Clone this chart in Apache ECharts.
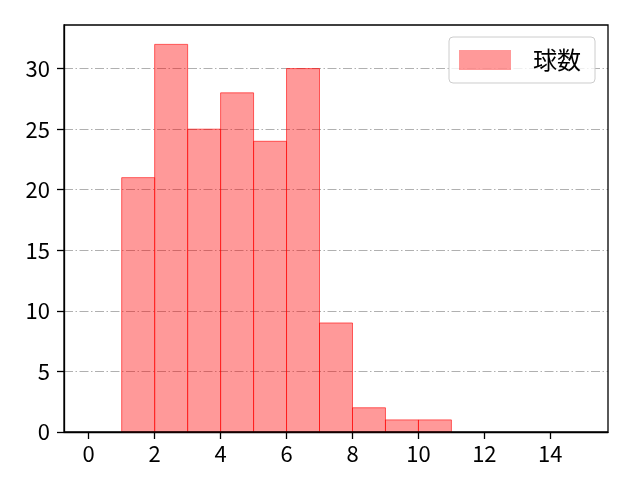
<!DOCTYPE html>
<html><head><meta charset="utf-8">
<script src="https://cdn.jsdelivr.net/npm/echarts@6/dist/echarts.min.js"></script>
<style>html,body{margin:0;padding:0;background:#fff}#c{width:640px;height:480px}</style>
</head><body><div id="c"></div>
<script>
const binStarts = [1, 2, 3, 4, 5, 6, 7, 8, 9, 10];
const binWidth = 1;
const counts = [21, 32, 25, 28, 24, 30, 9, 2, 1, 1];
const xTicks = [0, 2, 4, 6, 8, 10, 12, 14];
const yTicks = [0, 5, 10, 15, 20, 25, 30];
const seriesName = '球数';

const FONT = '"Noto Sans CJK JP", "DejaVu Sans", sans-serif';
const chart = echarts.init(document.getElementById('c'), null, {renderer: 'canvas'});
const data = binStarts.map((s, i) => [s, s + binWidth, counts[i]]);
chart.setOption({
  animation: false,
  grid: {left: 64, right: 32, top: 25, bottom: 48, show: false},
  legend: {
    top: 37, right: 45,
    data: [{name: seriesName, icon: 'rect'}],
    itemWidth: 52, itemHeight: 20, itemGap: 10,
    padding: [11, 14, 11, 10],
    borderColor: '#cccccc', borderWidth: 1, borderRadius: 4,
    backgroundColor: 'rgba(255,255,255,0.8)',
    textStyle: {fontFamily: FONT, fontSize: 24, color: '#000', padding: [0, 0, 0, 17]}
  },
  xAxis: {
    type: 'value', min: -0.75, max: 15.75,
    axisLine: {show: true, onZero: false, lineStyle: {color: '#000', width: 1.3}},
    axisTick: {show: true, length: 7, customValues: xTicks, lineStyle: {color: '#000', width: 1.3}},
    axisLabel: {customValues: xTicks, fontFamily: FONT, fontSize: 22, color: '#000', margin: 11},
    splitLine: {show: false}
  },
  yAxis: {
    type: 'value', min: 0, max: 33.6,
    axisLine: {show: true, onZero: false, lineStyle: {color: '#000', width: 1.3}},
    axisTick: {show: true, length: 7, customValues: yTicks, lineStyle: {color: '#000', width: 1.3}},
    axisLabel: {customValues: yTicks, fontFamily: FONT, fontSize: 22, color: '#000', margin: 14},
    splitLine: {show: true, lineStyle: {color: '#b0b0b0', width: 1, type: [9, 2.5, 1.5, 2.5]}}
  },
  series: [{
    name: seriesName, type: 'custom',
    itemStyle: {color: 'rgba(255,0,0,0.4)', borderColor: '#ff0000'},
    encode: {x: [0, 1], y: 2},
    data: data,
    renderItem: function (params, api) {
      const p0 = api.coord([api.value(0), api.value(2)]);
      const p1 = api.coord([api.value(1), 0]);
      return {
        type: 'rect',
        shape: {x: p0[0], y: p0[1], width: p1[0] - p0[0], height: p1[1] - p0[1]},
        style: {fill: 'rgba(255,0,0,0.4)', stroke: 'rgba(255,0,0,0.6)', lineWidth: 1}
      };
    }
  }],
  graphic: [{
    type: 'rect', silent: true, z: 100,
    shape: {x: 64, y: 25, width: 544, height: 407},
    style: {fill: 'none', stroke: '#000', lineWidth: 1.3}
  }]
});
</script></body></html>
